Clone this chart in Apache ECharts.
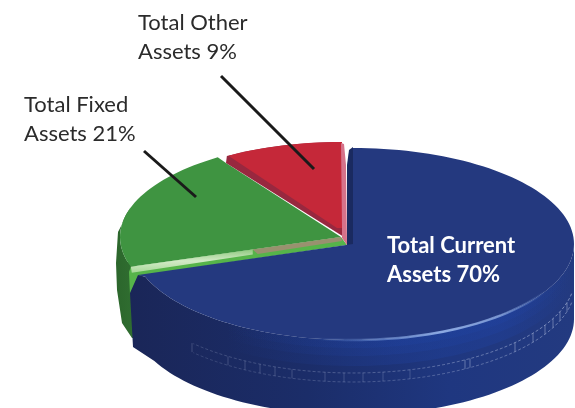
<!DOCTYPE html>
<html>
<head>
<meta charset="utf-8">
<style>
  html, body { margin: 0; padding: 0; background: #fff; }
  #main { width: 575px; height: 408px; }
</style>
</head>
<body>
<div id="main"></div>
<script src="https://cdn.jsdelivr.net/npm/echarts@6/dist/echarts.min.js"></script>
<script>
const categories = ['Total Current Assets', 'Total Fixed Assets', 'Total Other Assets']
const values = [70, 21, 9]
const labelTexts = ['Total Current\nAssets 70%', 'Total Fixed\nAssets 21%', 'Total Other\nAssets 9%']

const RX = 221
const RY = 96
const DEPTH = 75
// each slice is pulled apart a little, so it has its own apex
const apex = [[353, 244], [341, 237], [342, 238]]

const total = values.reduce((a, b) => a + b, 0)
const starts = []
values.reduce((acc, v, i) => { starts[i] = acc; return acc + v / total * 360 }, 0)

// clockwise from 12 o'clock, on the tilted ellipse
const pt = (c, deg, dy = 0, rx = RX, ry = RY) => {
  const t = deg * Math.PI / 180
  return [c[0] + rx * Math.sin(t), c[1] - ry * Math.cos(t) + dy]
}
const arc = (c, from, to, dy = 0, rx = RX, ry = RY) => {
  const pts = []
  const n = Math.max(2, Math.ceil(Math.abs(to - from) / 2))
  for (let i = 0; i <= n; i++) pts.push(pt(c, from + (to - from) * i / n, dy, rx, ry))
  return pts
}
const lerp = (a, b, t) => [a[0] + (b[0] - a[0]) * t, a[1] + (b[1] - a[1]) * t]
const poly = (points, fill, z2) => ({ type: 'polygon', z2, shape: { points }, style: { fill } })
const hGrad = (stops) => ({
  type: 'linear', x: 0, y: 0, x2: 1, y2: 0,
  colorStops: stops.map(s => ({ offset: s[0], color: s[1] }))
})
const vGrad = (stops) => ({
  type: 'linear', x: 0, y: 0, x2: 0, y2: 1,
  colorStops: stops.map(s => ({ offset: s[0], color: s[1] }))
})
const label = (text, x, y, fill, weight, z2) => ({
  type: 'text', x, y, z2,
  style: { text, fill, font: weight + ' 22px Lato', lineHeight: 29 }
})
const leader = (x1, y1, x2, y2) => ({
  type: 'line', z2: 40,
  shape: { x1, y1, x2, y2 },
  style: { stroke: '#1a1a1a', lineWidth: 3 }
})

function drawBlue(i, from, to) {
  const c = apex[i]
  const rim = arc(c, 90, to - 2).concat([[138, 275]])
  const bottom = arc(c, 90, 244, DEPTH)
  const side = rim.concat([[130, 293], [133, 347]], bottom.reverse())
  const glowStops = [[0, 'rgba(32,66,160,0)'], [0.5, 'rgba(32,66,160,0.3)'], [0.8, 'rgba(32,66,160,0.35)'], [1, 'rgba(32,66,160,0)']]
  const ringStroke = (a) => hGrad([[0, `rgba(205,215,240,${a * 0.35})`], [0.6, `rgba(205,215,240,${a * 0.6})`], [1, `rgba(205,215,240,${a})`]])
  const children = [
    poly(side, hGrad([[0, '#1a2658'], [0.4, '#1b2d69'], [0.72, '#1f3780'], [1, '#233a80']]), 20),
    poly(arc(c, 100, 215).concat(arc(c, 215, 100, 8)), hGrad(glowStops), 21),
    poly(arc(c, 100, 215).concat(arc(c, 215, 100, 16)), hGrad(glowStops), 21),
    poly(arc(c, 100, 215).concat(arc(c, 215, 100, 26)), hGrad(glowStops), 21),
    // inner wall next to the red slice
    poly([[353, 147], [349, 150], [347, 165], [347, 245], [353, 245]], '#1a2a60', 22),
    poly([c].concat(arc(c, from, to - 2), [[138, 275]]), '#24397f', 25),
    {
      type: 'polyline', z2: 26,
      shape: { points: arc(c, 120, 190) },
      style: {
        fill: 'none', lineWidth: 2.5,
        stroke: hGrad([[0, 'rgba(120,160,230,0)'], [0.55, 'rgba(150,180,235,0.9)'], [0.8, 'rgba(150,180,235,0.7)'], [1, 'rgba(120,160,230,0)']])
      }
    },
    {
      type: 'polyline', z2: 24,
      shape: { points: arc(c, 100, 226, 33, RX + 1) },
      style: { fill: 'none', lineWidth: 0.8, lineDash: [3, 2], stroke: ringStroke(0.65) }
    },
    {
      type: 'polyline', z2: 24,
      shape: { points: arc(c, 100, 226, 42, RX + 1) },
      style: { fill: 'none', lineWidth: 0.8, lineDash: [3, 2], stroke: ringStroke(0.55) }
    }
  ]
  // little ticks between the two dotted rings
  ;[192, 228, 245, 260, 275, 292, 325, 344, 363, 383, 410, 465, 470, 515, 533, 545, 553, 560, 567].forEach(x => {
    const s = (x - c[0]) / (RX + 1)
    const y = c[1] + RY * Math.sqrt(1 - s * s)
    children.push({
      type: 'line', z2: 24,
      shape: { x1: x, y1: y + 33, x2: x, y2: y + 42 },
      style: { stroke: x > 450 ? 'rgba(205,215,240,0.5)' : 'rgba(205,215,240,0.28)', lineWidth: 0.8 }
    })
  })
  return children
}

function drawGreen(i, from, to) {
  const c = apex[i]
  const rimEnd = pt(c, from)
  const side = arc(c, 255, 288).concat([[118, 232], [116, 263], [117, 290], [122, 323], [132, 338], [142, 338], [142, 270]])
  const lightEnd = lerp(rimEnd, c, 0.58)
  return [
    poly(side, hGrad([[0, '#2c662c'], [0.6, '#2f6d30'], [1, '#377a38']]), 5),
    // tip of the slice is cut back along the red bevel
    poly([c].concat(arc(c, from, to - 1.5), [[226, 163]]), '#3f9441', 8),
    // exposed cut face below the green slice
    poly([rimEnd, c, [347, 245], [138, 276], [130, 295], [129, 272]], '#56b44a', 7),
    poly([rimEnd, lightEnd, [lightEnd[0], lightEnd[1] + 5], [rimEnd[0] + 1, rimEnd[1] + 6]],
      vGrad([[0, '#8fc97f'], [0.5, '#d2eac6'], [1, '#a7d898']]), 9),
    poly([lightEnd, c, [342, 241], [lightEnd[0] + 5, lightEnd[1] + 4.5]], '#99916f', 9)
  ]
}

function drawRed(i, from, to) {
  const c = apex[i]
  return [
    poly([[c[0] + 2, c[1] - 1], [226, 163]].concat(arc(c, from + 1, to)), '#98283f', 10),
    poly([[342, 228], [337, 228]].concat(arc(c, from + 1.5, to)), '#c52839', 12),
    poly([[341, 143], [344, 144], [346, 165], [347, 245], [342, 238], [342, 228]], '#d6728a', 13)
  ]
}

const chart = echarts.init(document.getElementById('main'), null, { renderer: 'canvas' })
chart.setOption({
  animation: false,
  backgroundColor: '#ffffff',
  series: [{
    type: 'custom',
    coordinateSystem: 'none',
    silent: true,
    data: values.map((v, i) => ({ name: categories[i], value: v })),
    renderItem(params, api) {
      const i = params.dataIndex
      const from = starts[i]
      const to = from + api.value(0) / total * 360
      let children
      if (i === 0) {
        children = drawBlue(i, from, to)
        children.push(label(labelTexts[i], 387, 231, '#ffffff', 'bold', 45))
      } else if (i === 1) {
        children = drawGreen(i, from, to)
        children.push(label(labelTexts[i], 24, 90, '#2b2b2b', 'normal', 45))
        children.push(leader(144, 151, 196, 197))
      } else {
        children = drawRed(i, from, to)
        children.push(label(labelTexts[i], 138, 8, '#2b2b2b', 'normal', 45))
        children.push(leader(221, 76, 314, 169))
      }
      return { type: 'group', children }
    }
  }]
})
</script>
</body>
</html>
